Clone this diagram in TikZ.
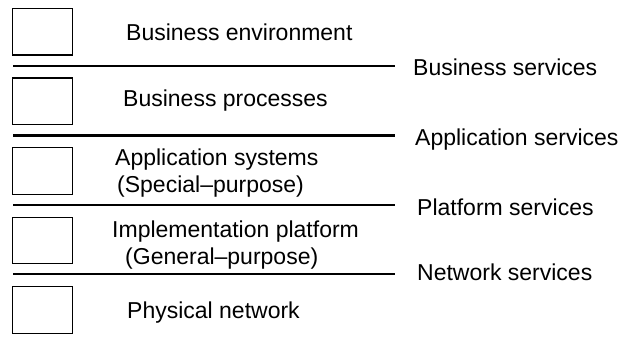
\documentclass[tikz,border=0pt]{standalone}
\usepackage{fontspec}
\setmainfont{Liberation Sans}
\begin{document}
\begin{tikzpicture}[x=1pt,y=-1pt,
  layerbox/.style={draw,line width=1.1pt,minimum width=60pt,minimum height=46.5pt,inner sep=0pt,anchor=north west},
  lbl/.style={anchor=base west,inner sep=0pt,font=\fontsize{23}{27}\selectfont},
  sep/.style={line width=2pt}]
\useasboundingbox (0,0) rectangle (618,342);
\node[layerbox] (b1) at (12,8) {};
\node[layerbox] (b2) at (12,77.5) {};
\node[layerbox] (b3) at (12,147) {};
\node[layerbox] (b4) at (12,216.5) {};
\node[layerbox] (b5) at (12,286) {};
\node[lbl] (t1) at (126,41) {Business environment};
\node[lbl] (t2) at (123,107) {Business processes};
\node[lbl] (t3) at (115,165) {Application systems};
\node[lbl] (t4) at (117,192) {(Special–purpose)};
\node[lbl] (t5) at (112,237) {Implementation platform};
\node[lbl] (t6) at (125,264) {(General–purpose)};
\node[lbl] (t7) at (127,318) {Physical network};
\node[lbl] (s1) at (413,76) {Business services};
\node[lbl] (s2) at (415,146) {Application services};
\node[lbl] (s3) at (417,215) {Platform services};
\node[lbl] (s4) at (417,280) {Network services};
\coordinate (l1a) at (13,66.5); \coordinate (l1b) at (395,66.5);
\coordinate (l2a) at (13,135.5); \coordinate (l2b) at (395,135.5);
\coordinate (l3a) at (13,204.5); \coordinate (l3b) at (395,204.5);
\coordinate (l4a) at (13,274); \coordinate (l4b) at (395,274);
\draw[sep] (l1a) -- (l1b);
\draw[sep] (l2a) -- (l2b);
\draw[sep] (l3a) -- (l3b);
\draw[sep] (l4a) -- (l4b);
\end{tikzpicture}
\end{document}
